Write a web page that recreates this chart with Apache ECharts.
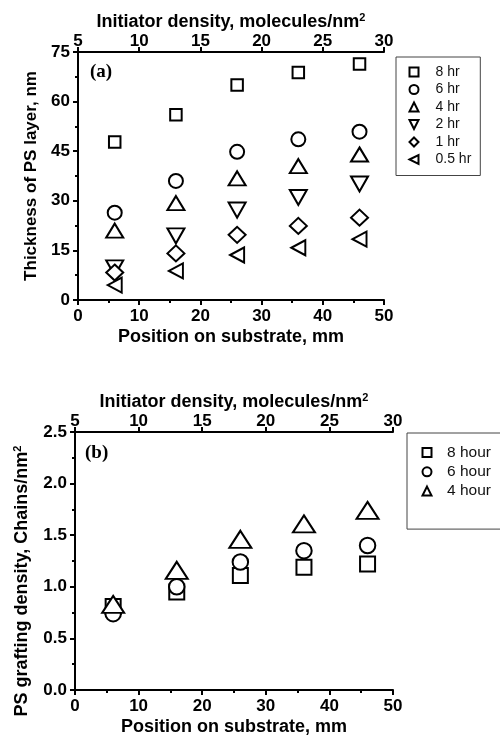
<!DOCTYPE html>
<html>
<head>
<meta charset="utf-8">
<script src="https://cdn.jsdelivr.net/npm/echarts@6/dist/echarts.min.js"></script>
<style>
html,body{margin:0;padding:0;background:#fff;}
#c{width:500px;height:746px;}
</style>
</head>
<body>
<div id="c"></div>
<script>
// ---- data ----
const positionMM = [6, 16, 26, 36, 46];

const thickSeriesNames = ['8 hr', '6 hr', '4 hr', '2 hr', '1 hr', '0.5 hr'];
const thick8hr  = [47.8, 56.0, 65.0, 68.8, 71.4];
const thick6hr  = [26.4, 36.0, 44.8, 48.6, 50.9];
const thick4hr  = [21.0, 29.3, 36.8, 40.5, 44.0];
const thick2hr  = [9.7, 19.4, 27.2, 31.0, 35.1];
const thick1hr  = [8.3, 14.1, 19.7, 22.4, 24.9];
const thick05hr = [4.5, 8.8, 13.6, 15.8, 18.4];

const graftSeriesNames = ['8 hour', '6 hour', '4 hour'];
const graft8hour = [0.81, 0.95, 1.11, 1.19, 1.22];
const graft6hour = [0.74, 1.00, 1.24, 1.35, 1.40];
const graft4hour = [0.83, 1.16, 1.46, 1.61, 1.74];

// axis ranges / ticks
const posTicks = [0, 50, 10];        // min, max, interval
const initTicks = [5, 30, 5];
const thickTicks = [0, 75, 15];
const graftTicks = [0, 2.5, 0.5];

// ---- chart ----
const FONT = "'Liberation Sans', Arial, sans-serif";
const pairs = (ys) => positionMM.map((x, i) => [x, ys[i]]);

const SYM = {
  square: 'rect',
  circle: 'circle',
  up: 'triangle',
  down: 'path://M0,0L2,0L1,2Z',
  diamond: 'path://M1,0L2,1L1,2L0,1Z',
  left: 'path://M0,1L2,0L2,2Z'
};

function axisCommon(extra) {
  return Object.assign({
    axisLine: {show: true, onZero: false, lineStyle: {color: '#000', width: 2}},
    axisTick: {show: true, inside: false, length: 5, lineStyle: {color: '#000', width: 2}},
    minorTick: {show: true, splitNumber: 2, length: 3, lineStyle: {color: '#000', width: 2}},
    splitLine: {show: false},
    axisLabel: {color: '#000', fontFamily: FONT, fontWeight: 'bold', fontSize: 17},
    nameTextStyle: {color: '#000', fontFamily: FONT, fontWeight: 'bold', fontSize: 18,
      rich: {sup: {fontFamily: FONT, fontWeight: 'bold', fontSize: 11, verticalAlign: 'top', padding: [0, 0, 10, 0]}}}
  }, extra);
}

const markStyle = {color: '#fff', borderColor: '#000', borderWidth: 2, opacity: 1};

function sc(name, xi, yi, ys, symbol, size) {
  return {
    type: 'scatter', name: name, xAxisIndex: xi, yAxisIndex: yi,
    data: pairs(ys), symbol: symbol, symbolSize: size,
    itemStyle: markStyle, emphasis: {disabled: true}, z: 5
  };
}

const option = {
  animation: false,
  backgroundColor: '#fff',
  title: [
    {text: '(a)', left: 90, top: 63, padding: 0,
     textStyle: {fontFamily: "'Liberation Serif', 'Times New Roman', serif", fontWeight: 'bold', fontSize: 19, color: '#000'}},
    {text: '(b)', left: 85, top: 444, padding: 0,
     textStyle: {fontFamily: "'Liberation Serif', 'Times New Roman', serif", fontWeight: 'bold', fontSize: 19, color: '#000'}}
  ],
  grid: [
    {left: 78, top: 52, width: 306, height: 248, containLabel: false},
    {left: 75, top: 432, width: 318, height: 258, containLabel: false}
  ],
  xAxis: [
    axisCommon({type: 'value', gridIndex: 0, position: 'bottom', min: posTicks[0], max: posTicks[1], interval: posTicks[2],
      name: 'Position on substrate, mm', nameLocation: 'middle', nameGap: 28}),
    axisCommon({type: 'value', gridIndex: 0, position: 'top', min: initTicks[0], max: initTicks[1], interval: initTicks[2],
      name: 'Initiator density, molecules/nm{sup|2}', nameLocation: 'middle', nameGap: 19,
      minorTick: {show: false}, axisLabel: {color: '#000', fontFamily: FONT, fontWeight: 'bold', fontSize: 17, margin: 2}}),
    axisCommon({type: 'value', gridIndex: 1, position: 'bottom', min: posTicks[0], max: posTicks[1], interval: posTicks[2],
      name: 'Position on substrate, mm', nameLocation: 'middle', nameGap: 28}),
    axisCommon({type: 'value', gridIndex: 1, position: 'top', min: initTicks[0], max: initTicks[1], interval: initTicks[2],
      name: 'Initiator density, molecules/nm{sup|2}', nameLocation: 'middle', nameGap: 19,
      minorTick: {show: false}, axisLabel: {color: '#000', fontFamily: FONT, fontWeight: 'bold', fontSize: 17, margin: 2}})
  ],
  yAxis: [
    axisCommon({type: 'value', gridIndex: 0, min: thickTicks[0], max: thickTicks[1], interval: thickTicks[2],
      name: 'Thickness of PS layer, nm', nameLocation: 'middle', nameGap: 38,
      nameTextStyle: {color: '#000', fontFamily: FONT, fontWeight: 'bold', fontSize: 17}}),
    axisCommon({type: 'value', gridIndex: 1, min: graftTicks[0], max: graftTicks[1], interval: graftTicks[2],
      name: 'PS grafting density, Chains/nm{sup|2}', nameLocation: 'middle', nameGap: 42,
      axisLabel: {color: '#000', fontFamily: FONT, fontWeight: 'bold', fontSize: 17, formatter: v => v.toFixed(1)},
      nameTextStyle: {color: '#000', fontFamily: FONT, fontWeight: 'bold', fontSize: 18, padding: [0, 40, 0, 0],
        rich: {sup: {fontFamily: FONT, fontWeight: 'bold', fontSize: 11, verticalAlign: 'top', padding: [0, 0, 10, 0]}}}})
  ],
  legend: [
    {data: thickSeriesNames, orient: 'vertical', left: 396, top: 57,
     itemWidth: 9, itemHeight: 9, itemGap: 3.5,
     padding: [8, 9, 9, 12.5], borderColor: '#444', borderWidth: 1,
     itemStyle: {borderWidth: 2},
     textStyle: {fontFamily: FONT, fontSize: 14, color: '#111', lineHeight: 14, padding: [0, 0, 0, 12]},
     selectedMode: false},
    {data: graftSeriesNames, orient: 'vertical', left: 407, top: 433,
     itemWidth: 9, itemHeight: 9, itemGap: 3.3,
     padding: [11.5, 100, 30, 14.5], borderColor: '#444', borderWidth: 1,
     itemStyle: {borderWidth: 2},
     textStyle: {fontFamily: FONT, fontSize: 15.5, color: '#111', lineHeight: 15, padding: [0, 0, 0, 10.5]},
     selectedMode: false}
  ],
  series: [
    sc('8 hr', 0, 0, thick8hr, SYM.square, 11.5),
    sc('6 hr', 0, 0, thick6hr, SYM.circle, 14),
    sc('4 hr', 0, 0, thick4hr, SYM.up, [17, 14]),
    sc('2 hr', 0, 0, thick2hr, SYM.down, [17, 15]),
    sc('1 hr', 0, 0, thick1hr, SYM.diamond, [17, 16]),
    sc('0.5 hr', 0, 0, thick05hr, SYM.left, [14, 15]),
    sc('8 hour', 2, 1, graft8hour, SYM.square, 15),
    sc('6 hour', 2, 1, graft6hour, SYM.circle, 15.5),
    sc('4 hour', 2, 1, graft4hour, SYM.up, [22, 17])
  ]
};

const chart = echarts.init(document.getElementById('c'), null, {renderer: 'canvas'});
chart.setOption(option);
</script>
</body>
</html>
